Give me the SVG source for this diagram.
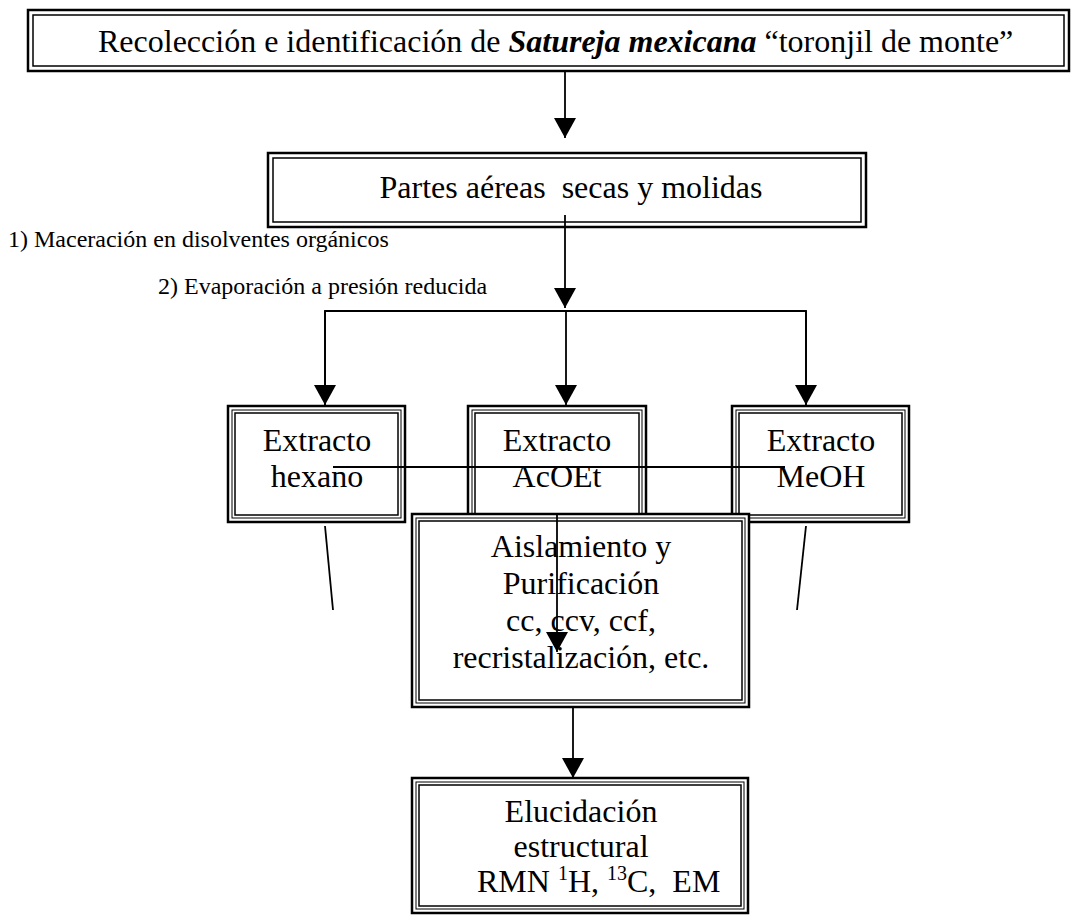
<svg xmlns="http://www.w3.org/2000/svg" width="1073" height="916" viewBox="0 0 1073 916">
<defs>
<style>
.o{fill:#fff;stroke:#000;stroke-width:2.5}
.m{fill:none;stroke:#000;stroke-width:1}
.i{fill:none;stroke:#000;stroke-width:1.5}
.t{font-family:"Liberation Serif","Times New Roman",serif;font-size:32px;fill:#000}
.s{font-family:"Liberation Serif","Times New Roman",serif;font-size:24px;fill:#000}
.c{stroke:#000;stroke-width:1.8;fill:none}
</style>
<marker id="ah" viewBox="0 0 20 22" refX="20" refY="11" markerWidth="20" markerHeight="22" markerUnits="userSpaceOnUse" orient="auto">
<path d="M0,0 L20,11 L0,22 z" fill="#000"/>
</marker>
</defs>
<rect width="1073" height="916" fill="#fff"/>
<g id="n-recoleccion">
<rect class="o" x="28" y="10" width="1041" height="61"/>
<rect class="i" x="33" y="15" width="1031" height="51"/>
<text class="t" x="98" y="52" font-size="33">Recolección e identificación de <tspan font-weight="bold" font-style="italic">Satureja mexicana</tspan> “toronjil de monte”</text>
</g>
<g id="n-partes">
<rect class="o" x="268" y="153" width="598" height="74"/>
<rect class="i" x="273" y="158" width="588" height="64"/>
<text class="t" x="571" y="198" text-anchor="middle" xml:space="preserve">Partes aéreas  secas y molidas</text>
</g>
<g id="n-hexano">
<rect class="o" x="228" y="406" width="177" height="116"/>
<rect class="m" x="232" y="410" width="169" height="108"/>
<rect class="i" x="235" y="413" width="163" height="102"/>
<text class="t" x="317" y="451" text-anchor="middle">Extracto</text>
<text class="t" x="317" y="487" text-anchor="middle">hexano</text>
</g>
<g id="n-acoet">
<rect class="o" x="468" y="406" width="178" height="116"/>
<rect class="m" x="472" y="410" width="170" height="108"/>
<rect class="i" x="475" y="413" width="164" height="102"/>
<text class="t" x="557" y="451" text-anchor="middle">Extracto</text>
<text class="t" x="557" y="487" text-anchor="middle">AcOEt</text>
</g>
<g id="n-meoh">
<rect class="o" x="732" y="406" width="177" height="116"/>
<rect class="m" x="736" y="410" width="169" height="108"/>
<rect class="i" x="739" y="413" width="163" height="102"/>
<text class="t" x="821" y="451" text-anchor="middle">Extracto</text>
<text class="t" x="821" y="487" text-anchor="middle">MeOH</text>
</g>
<g id="n-aislamiento">
<rect class="o" x="412" y="514" width="337" height="193"/>
<rect class="m" x="416" y="518" width="329" height="185"/>
<rect class="i" x="419" y="521" width="323" height="179"/>
<text class="t" x="581" y="557" text-anchor="middle">Aislamiento y</text>
<text class="t" x="581" y="594" text-anchor="middle">Purificación</text>
<text class="t" x="581" y="631" text-anchor="middle">cc, ccv, ccf,</text>
<text class="t" x="581" y="668" text-anchor="middle">recristalización, etc.</text>
</g>
<g id="n-elucidacion">
<rect class="o" x="412" y="778" width="336" height="135"/>
<rect class="m" x="416" y="782" width="328" height="127"/>
<rect class="i" x="419" y="785" width="322" height="121"/>
<text class="t" x="581" y="822" text-anchor="middle">Elucidación</text>
<text class="t" x="581" y="857" text-anchor="middle">estructural</text>
<text class="t" x="477" y="892" xml:space="preserve">RMN <tspan font-size="20" dy="-12">1</tspan><tspan dy="12">H, </tspan><tspan font-size="20" dy="-12">13</tspan><tspan dy="12">C,  EM</tspan></text>
</g>
<g id="labels">
<text class="s" x="8" y="247">1) Maceración en disolventes orgánicos</text>
<text class="s" x="158" y="294">2) Evaporación a presión reducida</text>
</g>
<g id="connectors">
<line class="c" x1="565" y1="71" x2="565" y2="138" marker-end="url(#ah)"/>
<line class="c" x1="565" y1="215" x2="565" y2="308" marker-end="url(#ah)"/>
<polyline class="c" points="325,405 325,311 806,311 806,405"/>
<line class="c" x1="325" y1="311" x2="325" y2="405" marker-end="url(#ah)"/>
<line class="c" x1="566" y1="311" x2="566" y2="405" marker-end="url(#ah)"/>
<line class="c" x1="806" y1="311" x2="806" y2="405" marker-end="url(#ah)"/>
<line class="c" x1="333" y1="467" x2="785" y2="467"/>
<line class="c" x1="557" y1="514" x2="557" y2="652" marker-end="url(#ah)"/>
<line class="c" x1="325" y1="526" x2="333" y2="610"/>
<line class="c" x1="806" y1="526" x2="797" y2="610"/>
<line class="c" x1="573" y1="707" x2="573" y2="778" marker-end="url(#ah)"/>
</g>
</svg>
